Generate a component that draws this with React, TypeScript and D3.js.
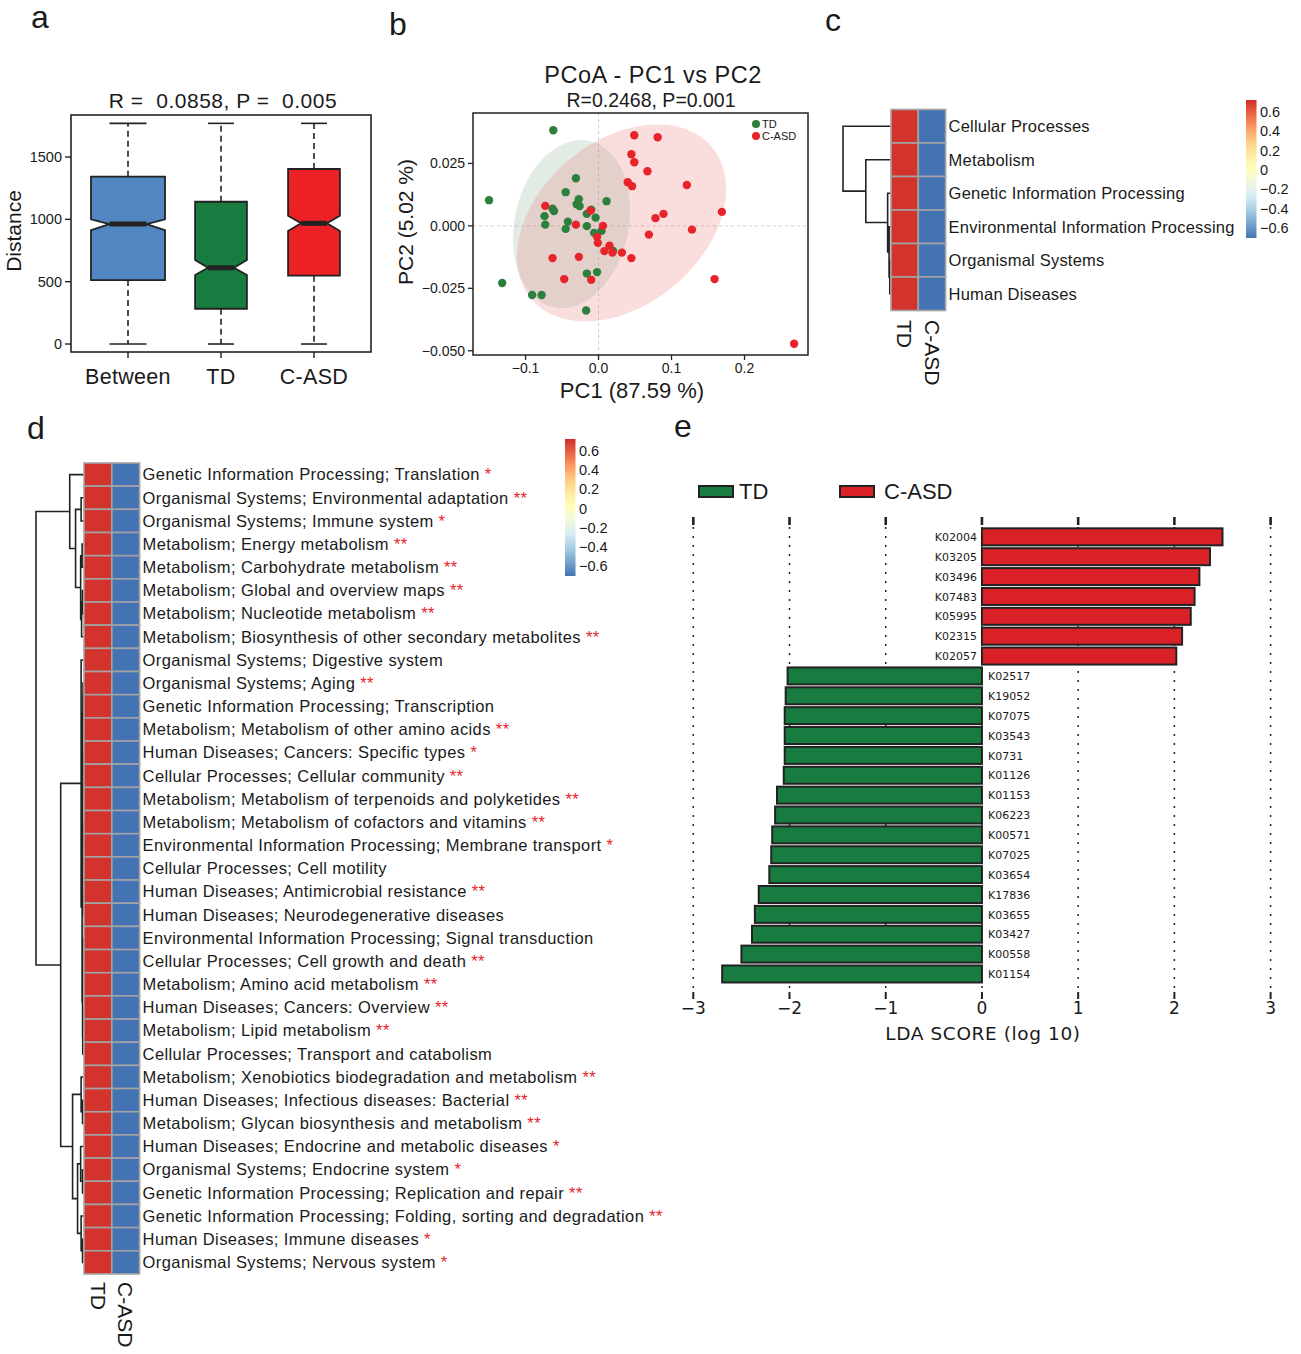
import * as d3 from 'd3'

const SANS = "'Liberation Sans', Arial, Helvetica, sans-serif"
const DEJAVU = "'DejaVu Sans', Verdana, sans-serif"
const INK = '#222'

// ---- a: distance boxplot
const distGroups = ['Between', 'TD', 'C-ASD']
const distColors = ['#5286C3', '#187B3F', '#EC2126']
const distRelWidth = [1, 0.7, 0.7]
const distMin = [0, 0, 0]
const distQ1 = [513, 283, 548]
const distMedian = [962, 612, 968]
const distQ3 = [1342, 1141, 1404]
const distMax = [1770, 1770, 1770]
const distNotchLow = [914, 553, 906]
const distNotchHigh = [1000, 674, 1029]
const distTicks = [0, 500, 1000, 1500]

// ---- b: PCoA
const tdPC1 = [-0.062, -0.150, -0.132, -0.091, -0.078, -0.017, -0.031, -0.045, -0.027, -0.030, -0.026, -0.063, -0.061, -0.074, -0.073, -0.042, -0.045, -0.016, -0.010, -0.004, -0.016, -0.006, 0.004, 0.011, -0.016, -0.002, 0.020]
const tdPC2 = [0.0383, 0.0103, -0.0229, -0.0277, -0.0277, -0.0339, 0.0191, 0.0135, 0.0107, 0.0087, 0.0079, 0.0069, 0.0059, 0.0039, 0.0005, 0.0017, -0.0012, 0.0048, 0.0065, 0.0033, -0.0001, -0.0028, -0.0020, 0.0099, -0.0191, -0.0185, -0.0100]
const asdPC1 = [0.049, 0.081, 0.045, 0.049, 0.067, 0.040, 0.046, 0.121, 0.169, 0.089, 0.078, 0.128, 0.069, -0.073, -0.011, -0.031, 0.006, -0.002, -0.001, 0.015, 0.008, 0.019, 0.032, 0.045, -0.063, -0.027, -0.047, -0.010, 0.159, 0.268]
const asdPC2 = [0.0363, 0.0355, 0.0287, 0.0255, 0.0219, 0.0175, 0.0159, 0.0164, 0.0056, 0.0048, 0.0031, -0.0015, -0.0035, 0.0080, 0.0061, 0.0005, 0.0000, -0.0044, -0.0068, -0.0079, -0.0101, -0.0107, -0.0107, -0.0129, -0.0129, -0.0124, -0.0213, -0.0216, -0.0213, -0.0472]
const pcoaXTicks = [-0.1, 0, 0.1, 0.2]
const pcoaYTicks = [-0.05, -0.025, 0, 0.025]

// ---- c: level-1 heatmap
const cLabels = ['Cellular Processes', 'Metabolism', 'Genetic Information Processing', 'Environmental Information Processing', 'Organismal Systems', 'Human Diseases']
const cTD = [0.71, 0.71, 0.71, 0.71, 0.71, 0.71]
const cASD = [-0.71, -0.71, -0.71, -0.71, -0.71, -0.71]

// ---- d: level-2 heatmap
const dLabels = [
  'Genetic Information Processing; Translation',
  'Organismal Systems; Environmental adaptation',
  'Organismal Systems; Immune system',
  'Metabolism; Energy metabolism',
  'Metabolism; Carbohydrate metabolism',
  'Metabolism; Global and overview maps',
  'Metabolism; Nucleotide metabolism',
  'Metabolism; Biosynthesis of other secondary metabolites',
  'Organismal Systems; Digestive system',
  'Organismal Systems; Aging',
  'Genetic Information Processing; Transcription',
  'Metabolism; Metabolism of other amino acids',
  'Human Diseases; Cancers: Specific types',
  'Cellular Processes; Cellular community',
  'Metabolism; Metabolism of terpenoids and polyketides',
  'Metabolism; Metabolism of cofactors and vitamins',
  'Environmental Information Processing; Membrane transport',
  'Cellular Processes; Cell motility',
  'Human Diseases; Antimicrobial resistance',
  'Human Diseases; Neurodegenerative diseases',
  'Environmental Information Processing; Signal transduction',
  'Cellular Processes; Cell growth and death',
  'Metabolism; Amino acid metabolism',
  'Human Diseases; Cancers: Overview',
  'Metabolism; Lipid metabolism',
  'Cellular Processes; Transport and catabolism',
  'Metabolism; Xenobiotics biodegradation and metabolism',
  'Human Diseases; Infectious diseases: Bacterial',
  'Metabolism; Glycan biosynthesis and metabolism',
  'Human Diseases; Endocrine and metabolic diseases',
  'Organismal Systems; Endocrine system',
  'Genetic Information Processing; Replication and repair',
  'Genetic Information Processing; Folding, sorting and degradation',
  'Human Diseases; Immune diseases',
  'Organismal Systems; Nervous system',
]
const dStars = ['*', '**', '*', '**', '**', '**', '**', '**', '', '**', '', '**', '*', '**', '**', '**', '*', '', '**', '', '', '**', '**', '**', '**', '', '**', '**', '**', '*', '*', '**', '**', '*', '*']
const dTD = [0.71, 0.71, 0.71, 0.71, 0.71, 0.71, 0.71, 0.71, 0.71, 0.71, 0.71, 0.71, 0.71, 0.71, 0.71, 0.71, 0.71, 0.71, 0.71, 0.71, 0.71, 0.71, 0.71, 0.71, 0.71, 0.71, 0.71, 0.71, 0.71, 0.71, 0.71, 0.71, 0.71, 0.71, 0.71]
const dASD = [-0.71, -0.71, -0.71, -0.71, -0.71, -0.71, -0.71, -0.71, -0.71, -0.71, -0.71, -0.71, -0.71, -0.71, -0.71, -0.71, -0.71, -0.71, -0.71, -0.71, -0.71, -0.71, -0.71, -0.71, -0.71, -0.71, -0.71, -0.71, -0.71, -0.71, -0.71, -0.71, -0.71, -0.71, -0.71]

const heatPalette = ['#4070B0', '#91BFDB', '#E0F3F8', '#FFFFBF', '#FEE090', '#FC8D59', '#D0302B']
const legendValues = [0.6, 0.4, 0.2, 0, -0.2, -0.4, -0.6]
const legendText = ['0.6', '0.4', '0.2', '0', '\u22120.2', '\u22120.4', '\u22120.6']

// ---- e: LEfSe
const ldaFeatures = ['K02004', 'K03205', 'K03496', 'K07483', 'K05995', 'K02315', 'K02057', 'K02517', 'K19052', 'K07075', 'K03543', 'K0731', 'K01126', 'K01153', 'K06223', 'K00571', 'K07025', 'K03654', 'K17836', 'K03655', 'K03427', 'K00558', 'K01154']
const ldaScores = [2.50, 2.37, 2.26, 2.21, 2.17, 2.08, 2.02, -2.02, -2.04, -2.05, -2.05, -2.05, -2.06, -2.13, -2.15, -2.18, -2.19, -2.21, -2.32, -2.36, -2.39, -2.50, -2.70]
const ldaTicks = [-3, -2, -1, 0, 1, 2, 3]
const groupColor: Record<string, string> = { TD: '#187B3F', 'C-ASD': '#DA2128' }

// ---- dendrograms
type Tree = number | { h: number; c: [Tree, Tree] }
const node = (h: number, a: Tree, b: Tree): Tree => ({ h, c: [a, b] })
const bal = (lo: number, hi: number, h: number): Tree => {
  if (lo === hi) return lo
  const m = Math.floor((lo + hi) / 2)
  return node(h, bal(lo, m, h * 0.8), bal(m + 1, hi, h * 0.8))
}

const cTree = node(1, 0, node(0.52, 1, node(0.06, 2, node(0.03, 3, node(0.015, 4, 5)))))
const dTree = node(
  1,
  node(0.29, 0, node(0.167, node(0.05, 1, 2), node(0.06, node(0.03, 3, 4), node(0.04, node(0.02, 5, 6), 7)))),
  node(
    0.48,
    node(0.05, 8, node(0.03, bal(9, 19, 0.02), bal(20, 25, 0.02))),
    node(0.23, node(0.05, 26, node(0.02, 27, 28)), node(0.125, node(0.06, 29, node(0.02, 30, 31)), node(0.05, 32, node(0.02, 33, 34))))
  )
)

function dendroPath(tree: Tree, yOf: (i: number) => number, xOf: (h: number) => number) {
  const p = d3.path()
  const walk = (n: Tree): { x: number; y: number } => {
    if (typeof n === 'number') return { x: xOf(0), y: yOf(n) }
    const a = walk(n.c[0])
    const b = walk(n.c[1])
    const x = xOf(n.h)
    p.moveTo(a.x, a.y); p.lineTo(x, a.y); p.lineTo(x, b.y); p.lineTo(b.x, b.y)
    return { x, y: (a.y + b.y) / 2 }
  }
  walk(tree)
  return p.toString()
}

const heatColor = d3.scaleLinear<string>()
  .domain(d3.range(7).map(i => -0.72 + i * 0.24))
  .range(heatPalette)

function ColorBar({ id, x, top, bottom }: { id: string; x: number; top: number; bottom: number }) {
  const y = d3.scaleLinear().domain([-0.705, 0.725]).range([bottom, top])
  const stops = d3.range(0, 1.0001, 0.1)
  return (
    <g>
      <defs>
        <linearGradient id={id} x1="0" y1="1" x2="0" y2="0">
          {stops.map(t => (
            <stop key={t} offset={t} stopColor={heatColor(-0.705 + t * 1.43)} />
          ))}
        </linearGradient>
      </defs>
      <rect x={x} y={top} width={10.5} height={bottom - top} fill={`url(#${id})`} />
      {legendValues.map((v, i) => (
        <text key={v} x={x + 14} y={y(v)} dy="0.35em" fontSize={14.5}>{legendText[i]}</text>
      ))}
    </g>
  )
}

function PanelA() {
  const x = d3.scalePoint<string>().domain(distGroups).range([128, 314])
  const y = d3.scaleLinear().domain([-64, 1837]).range([352, 115])
  const full = 74
  const line = d3.line()
  return (
    <g>
      <text x={223} y={108} textAnchor="middle" fontSize={21} letterSpacing={0.5} style={{ whiteSpace: 'pre' }}>R =  0.0858, P =  0.005</text>
      {distGroups.map((g, i) => {
        const cx = x(g)!
        const w = full * distRelWidth[i]
        const x0 = cx - w / 2, x1 = cx + w / 2
        const pts: [number, number][] = [
          [x0, y(distQ3[i])], [x1, y(distQ3[i])], [x1, y(distNotchHigh[i])], [cx + w / 4, y(distMedian[i])],
          [x1, y(distNotchLow[i])], [x1, y(distQ1[i])], [x0, y(distQ1[i])], [x0, y(distNotchLow[i])],
          [cx - w / 4, y(distMedian[i])], [x0, y(distNotchHigh[i])],
        ]
        return (
          <g key={g}>
            <line x1={cx} x2={cx} y1={y(distQ3[i])} y2={y(distMax[i])} stroke={INK} strokeWidth={1.6} strokeDasharray="6,4" />
            <line x1={cx} x2={cx} y1={y(distQ1[i])} y2={y(distMin[i])} stroke={INK} strokeWidth={1.6} strokeDasharray="6,4" />
            <line x1={cx - w / 4} x2={cx + w / 4} y1={y(distMax[i])} y2={y(distMax[i])} stroke={INK} strokeWidth={1.6} />
            <line x1={cx - w / 4} x2={cx + w / 4} y1={y(distMin[i])} y2={y(distMin[i])} stroke={INK} strokeWidth={1.6} />
            <path d={line(pts)! + 'Z'} fill={distColors[i]} stroke={INK} strokeWidth={1.8} />
            <line x1={cx - w / 4} x2={cx + w / 4} y1={y(distMedian[i])} y2={y(distMedian[i])} stroke={INK} strokeWidth={5} />
            <line x1={cx} x2={cx} y1={352} y2={358} stroke={INK} strokeWidth={1.4} />
            <text x={cx} y={384} textAnchor="middle" fontSize={21.5} letterSpacing={0.3}>{g}</text>
          </g>
        )
      })}
      <rect x={71} y={115} width={300} height={237} fill="none" stroke={INK} strokeWidth={1.6} />
      {distTicks.map(t => (
        <g key={t}>
          <line x1={65} x2={71} y1={y(t)} y2={y(t)} stroke={INK} strokeWidth={1.4} />
          <text x={62} y={y(t)} dy="0.35em" textAnchor="end" fontSize={14.5}>{t}</text>
        </g>
      ))}
      <text transform="translate(21,231) rotate(-90)" textAnchor="middle" fontSize={21}>Distance</text>
    </g>
  )
}

function ellipsePath(cx: number, cy: number, a: number, b: number, deg: number) {
  const phi = (deg * Math.PI) / 180
  const ts = d3.range(0, 2 * Math.PI + 0.01, Math.PI / 60)
  return d3.line()(ts.map(t => [
    cx + a * Math.cos(t) * Math.cos(phi) - b * Math.sin(t) * Math.sin(phi),
    cy + a * Math.cos(t) * Math.sin(phi) + b * Math.sin(t) * Math.cos(phi),
  ] as [number, number]))! + 'Z'
}

function PanelB() {
  const x = d3.scaleLinear().domain([-0.172, 0.287]).range([473, 808])
  const y = d3.scaleLinear().domain([-0.0517, 0.0452]).range([355, 113])
  const fx = d3.format('.1f')
  const fy = d3.format('.3f')
  return (
    <g>
      <text x={653} y={83} textAnchor="middle" fontSize={23.5} letterSpacing={0.5}>PCoA - PC1 vs PC2</text>
      <text x={651} y={107} textAnchor="middle" fontSize={19.5}>R=0.2468, P=0.001</text>
      <line x1={x(0)} x2={x(0)} y1={113} y2={355} stroke="#ccc" strokeDasharray="3,3" />
      <line x1={473} x2={808} y1={y(0)} y2={y(0)} stroke="#ccc" strokeDasharray="3,3" />
      <path d={ellipsePath(x(-0.037), y(0.0007), 57, 85, 12)} fill="#7DA887" fillOpacity={0.22} />
      <path d={ellipsePath(x(0.0315), y(0.0012), 118, 82, -40)} fill="#EC8080" fillOpacity={0.26} />
      {tdPC1.map((v, i) => (
        <circle key={'t' + i} cx={x(v)} cy={y(tdPC2[i])} r={4.2} fill="#2C7F3C" />
      ))}
      {asdPC1.map((v, i) => (
        <circle key={'a' + i} cx={x(v)} cy={y(asdPC2[i])} r={4.2} fill="#E8232A" />
      ))}
      <rect x={473} y={113} width={335} height={242} fill="none" stroke={INK} strokeWidth={1.5} />
      {pcoaXTicks.map(t => (
        <g key={t}>
          <line x1={x(t)} x2={x(t)} y1={355} y2={360} stroke={INK} strokeWidth={1.3} />
          <text x={x(t)} y={373} textAnchor="middle" fontSize={14}>{fx(t)}</text>
        </g>
      ))}
      {pcoaYTicks.map(t => (
        <g key={t}>
          <line x1={468} x2={473} y1={y(t)} y2={y(t)} stroke={INK} strokeWidth={1.3} />
          <text x={465} y={y(t)} dy="0.35em" textAnchor="end" fontSize={14}>{fy(t)}</text>
        </g>
      ))}
      <text x={632} y={398} textAnchor="middle" fontSize={22}>PC1 (87.59 %)</text>
      <text transform="translate(413,222) rotate(-90)" textAnchor="middle" fontSize={21}>PC2 (5.02 %)</text>
      <circle cx={756} cy={124} r={4} fill="#2C7F3C" />
      <text x={762} y={124} dy="0.35em" fontSize={11}>TD</text>
      <circle cx={756} cy={136} r={4} fill="#E8232A" />
      <text x={762} y={136} dy="0.35em" fontSize={11}>C-ASD</text>
    </g>
  )
}

function Heat({ labels, td, asd, tree, left, top, rowH, colW, rootX, labelSize, labelSpacing, stars, labelGap, colLabelY, colLabelSize }: {
  labels: string[]; td: number[]; asd: number[]; tree: Tree; left: number; top: number; rowH: number; colW: number
  rootX: number; labelSize: number; labelSpacing: number; stars?: string[]; labelGap: number; colLabelY: number; colLabelSize: number
}) {
  const y = d3.scaleBand<number>().domain(d3.range(labels.length)).range([top, top + rowH * labels.length])
  const h = d3.scaleLinear().domain([0, 1]).range([left - 0.5, rootX])
  const cols = [td, asd]
  return (
    <g>
      <path d={dendroPath(tree, i => y(i)! + rowH / 2, h)} fill="none" stroke={INK} strokeWidth={1.6} />
      {cols.map((vals, c) =>
        vals.map((v, i) => (
          <rect key={c + '-' + i} x={left + c * colW} y={y(i)} width={colW} height={rowH} fill={heatColor(v)} stroke="#A3A3A3" strokeWidth={1.6} />
        ))
      )}
      {labels.map((l, i) => (
        <text key={l} x={left + 2 * colW + labelGap} y={y(i)! + rowH / 2} dy="0.35em" fontSize={labelSize} letterSpacing={labelSpacing}>
          {l}
          {stars && stars[i] ? <tspan fill="#E8232A">{' ' + stars[i]}</tspan> : null}
        </text>
      ))}
      {['TD', 'C-ASD'].map((g, c) => (
        <text key={g} transform={`translate(${left + c * colW + colW / 2},${colLabelY}) rotate(90)`} dy="0.35em" fontSize={colLabelSize}>{g}</text>
      ))}
    </g>
  )
}

function PanelE() {
  const x = d3.scaleLinear().domain([-3, 3]).range([693.3, 1270.6])
  const y = d3.scaleBand<string>().domain(ldaFeatures).range([526.9, 526.9 + 23 * 19.87]).paddingInner(0.145).paddingOuter(0.0725)
  return (
    <g fontFamily={DEJAVU}>
      {ldaTicks.map(t => (
        <g key={t}>
          <line x1={x(t)} x2={x(t)} y1={517} y2={525} stroke={INK} strokeWidth={2.6} />
          <line x1={x(t)} x2={x(t)} y1={527} y2={991} stroke={INK} strokeWidth={1.5} strokeDasharray="2,7" />
          <line x1={x(t)} x2={x(t)} y1={992} y2={999} stroke={INK} strokeWidth={2} />
          <text x={x(t)} y={1014} textAnchor="middle" fontSize={17}>{t < 0 ? '\u2212' + Math.abs(t) : t}</text>
        </g>
      ))}
      {ldaFeatures.map((f, i) => {
        const v = ldaScores[i]
        const g = v > 0 ? 'C-ASD' : 'TD'
        const x0 = x(Math.min(0, v)), x1 = x(Math.max(0, v))
        const cy = y(f)! + y.bandwidth() / 2
        return (
          <g key={f}>
            <rect x={x0} y={y(f)} width={x1 - x0} height={y.bandwidth()} fill={groupColor[g]} stroke={INK} strokeWidth={2} />
            <text x={v > 0 ? x(0) - 5 : x(0) + 6} y={cy} dy="0.38em" textAnchor={v > 0 ? 'end' : 'start'} fontSize={11}>{f}</text>
          </g>
        )
      })}
      <text x={983} y={1040} textAnchor="middle" fontSize={18.5} letterSpacing={0.6}>LDA SCORE (log 10)</text>
      <rect x={699} y={486} width={34} height={11} fill={groupColor.TD} stroke={INK} strokeWidth={2} />
      <text x={739} y={498.5} fontSize={22} fontFamily={SANS}>TD</text>
      <rect x={840} y={486} width={34} height={11} fill={groupColor['C-ASD']} stroke={INK} strokeWidth={2} />
      <text x={884} y={498.5} fontSize={22} fontFamily={SANS}>C-ASD</text>
    </g>
  )
}

export default function App() {
  return (
    <svg width={1301} height={1354} viewBox="0 0 1301 1354" fontFamily={SANS} fill="#1a1a1a"
      style={{ position: 'absolute', left: 0, top: 0, background: '#fff' }}>
      <text x={31} y={28} fontSize={32}>a</text>
      <text x={389} y={35} fontSize={32}>b</text>
      <text x={825} y={31} fontSize={32}>c</text>
      <text x={27} y={439} fontSize={32}>d</text>
      <text x={674} y={437} fontSize={32}>e</text>
      <PanelA />
      <PanelB />
      <Heat labels={cLabels} td={cTD} asd={cASD} tree={cTree} left={891} top={109.5} rowH={33.5} colW={27.3}
        rootX={843} labelSize={16.5} labelSpacing={0.2} labelGap={3} colLabelY={320} colLabelSize={21} />
      <ColorBar id="cbarC" x={1246} top={100} bottom={238} />
      <Heat labels={dLabels} td={dTD} asd={dASD} tree={dTree} left={84} top={463} rowH={23.17} colW={27.8}
        rootX={36} labelSize={16.5} labelSpacing={0.4} stars={dStars} labelGap={3} colLabelY={1282} colLabelSize={21} />
      <ColorBar id="cbarD" x={565} top={439} bottom={576} />
      <PanelE />
    </svg>
  )
}
